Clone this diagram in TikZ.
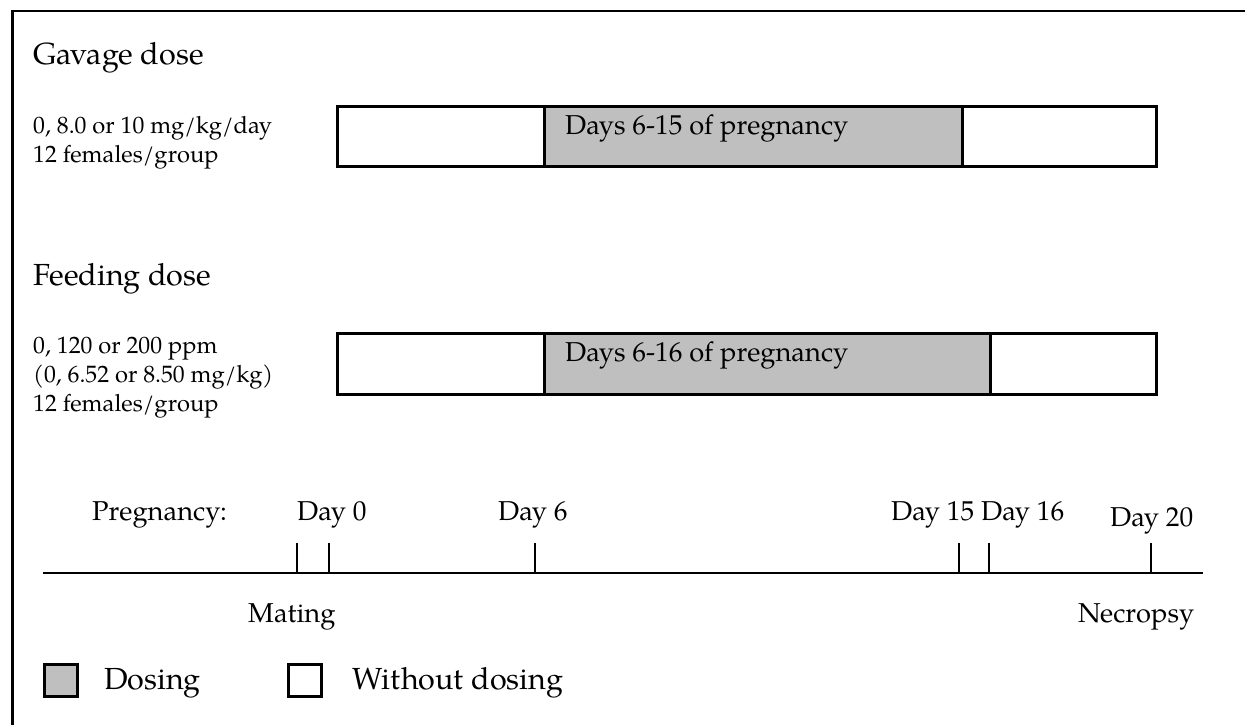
\documentclass[tikz,border=0pt]{standalone}
\usepackage{fontspec}
\setmainfont{TeX Gyre Pagella}
\definecolor{dosegray}{RGB}{191,191,191}
\begin{document}
\begin{tikzpicture}[x=1pt,y=-1pt,
  frame/.style={line width=2.8pt},
  bar/.style={draw=black, line width=2.6pt, fill=white, inner sep=0pt, anchor=north west},
  dosebar/.style={bar, fill=dosegray},
  tickline/.style={line width=2.6pt},
  big/.style={font=\fontsize{30.5}{36}\selectfont, inner sep=0pt, anchor=base west},
  mid/.style={font=\fontsize{27.3}{32}\selectfont, inner sep=0pt, anchor=base west},
  small/.style={font=\fontsize{23.7}{28}\selectfont, inner sep=0pt, anchor=base west}]
\useasboundingbox (0,0) rectangle (1245,725);
\fill[white] (0,0) rectangle (1245,725);
\draw[frame] (12.5,725) -- (12.5,11) -- (1245,11);
% Gavage
\node[big] (gt) at (33,65) {Gavage dose};
\node[small] (g1) at (33,133) {0, 8.0 or 10 mg/kg/day};
\node[small] (g2) at (33,162) {12 females/group};
\node[bar, minimum width=819pt, minimum height=60pt] (gbox) at (336,105) {};
\node[dosebar, minimum width=418pt, minimum height=60pt] (gdose) at (543,105) {};
\node[mid] (glab) at (565,134) {Days 6-15 of pregnancy};
% Feeding
\node[big] (ft) at (33,285) {Feeding dose};
\node[small] (f1) at (33,353) {0, 120 or 200 ppm};
\node[small] (f2) at (33,382) {(0, 6.52 or 8.50 mg/kg)};
\node[small] (f3) at (33,411) {12 females/group};
\node[bar, minimum width=819pt, minimum height=61pt] (fbox) at (336,332) {};
\node[dosebar, minimum width=446pt, minimum height=61pt] (fdose) at (543,332) {};
\node[mid] (flab) at (565,361) {Days 6-16 of pregnancy};
% Timeline
\coordinate (axL) at (43,573);
\coordinate (axR) at (1203,573);
\draw[frame] (axL) -- (axR);
\foreach \n/\x in {m1/297, d0/329, d6/535, d15/959, d16/989, d20/1151}{
  \coordinate (\n top) at (\x,543);
  \coordinate (\n bot) at (\x,573);
  \draw[tickline] (\n top) -- (\n bot);
}
\node[mid] (preg) at (92,520) {Pregnancy:};
\node[mid] (l0) at (297,520) {Day 0};
\node[mid] (l6) at (498,520) {Day 6};
\node[mid] (l15) at (891,520) {Day 15};
\node[mid] (l16) at (981,520) {Day 16};
\node[mid] (l20) at (1110,526) {Day 20};
\node[mid] (mating) at (248,622) {Mating};
\node[mid] (necro) at (1078,622) {Necropsy};
% Legend
\node[dosebar, minimum width=33pt, minimum height=32pt] (lg1) at (43,663) {};
\node[big] (lt1) at (104,689) {Dosing};
\node[bar, minimum width=33pt, minimum height=32pt] (lg2) at (287,663) {};
\node[big] (lt2) at (352,689) {Without dosing};
\end{tikzpicture}
\end{document}
